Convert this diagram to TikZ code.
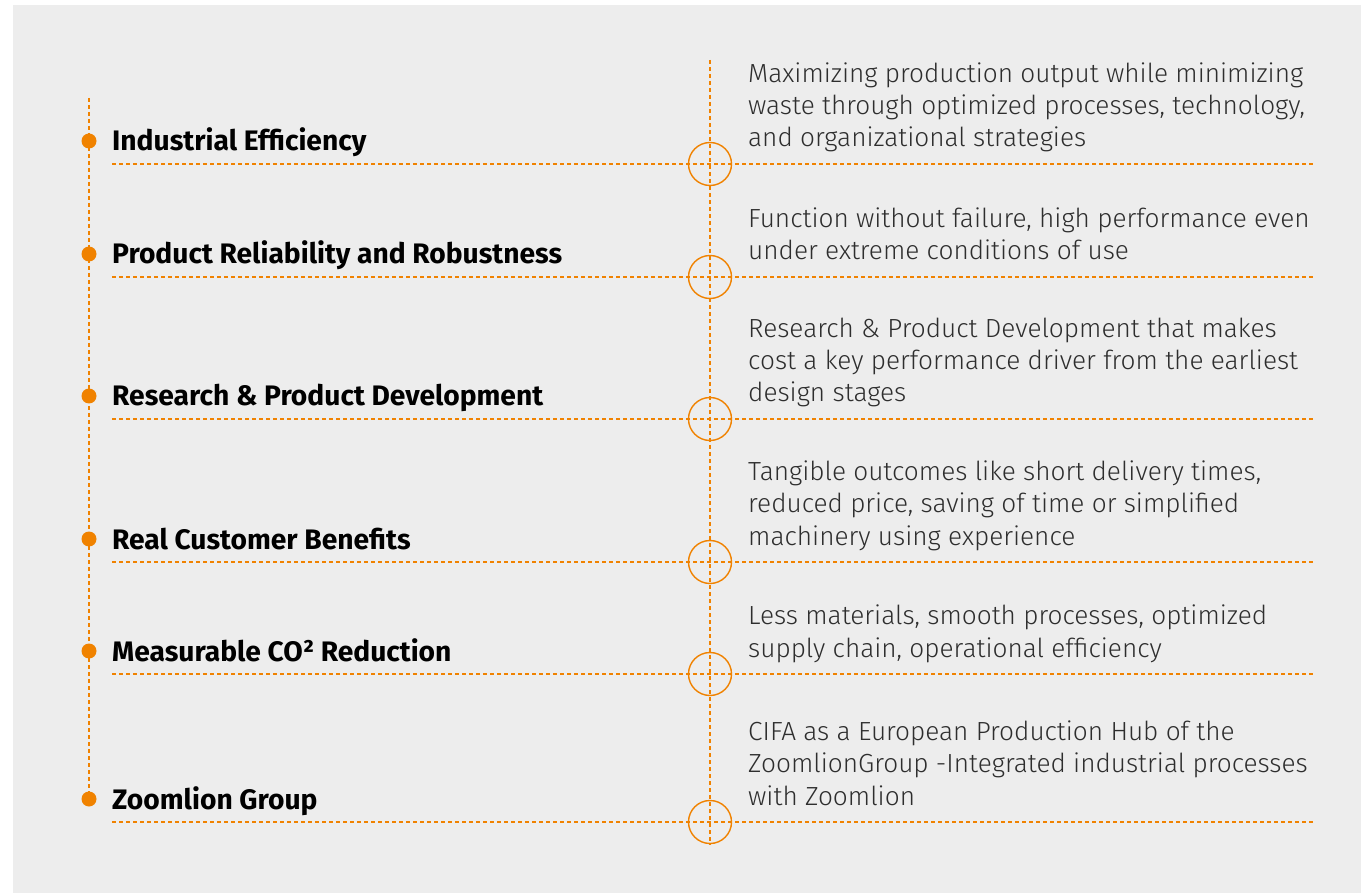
\documentclass[tikz,border=0pt]{standalone}
\usepackage{fontspec}
\setmainfont{Fira Sans}
\newfontfamily\thinfont{Fira Sans Light}
\definecolor{zorange}{HTML}{F08200}
\definecolor{zpanel}{HTML}{EDEDED}
\definecolor{ztext}{HTML}{2E2E2E}
\tikzset{
  guide/.style={zorange, line width=1.2pt, dash pattern=on 4pt off 3pt},
  headline/.style={anchor=base west, inner sep=0pt, font=\bfseries\fontsize{28.2}{32}\selectfont},
  blurb/.style={anchor=base west, inner sep=0pt, align=left, text=ztext, font=\thinfont\fontsize{26.2}{32.3}\selectfont},
  ring/.style={draw=zorange, line width=1.4pt, circle, minimum size=43pt, inner sep=0pt},
  bullet/.style={fill=zorange, circle, minimum size=15pt, inner sep=0pt}
}
\begin{document}
\begin{tikzpicture}[x=1pt,y=-1pt]
                \useasboundingbox (0,0) rectangle (1361,893);
                \fill[zpanel] (13,5) rectangle (1361,893);
                % left time line
                \coordinate (ltop) at (89,98);
                \coordinate (lbot) at (89,799);
                \draw[guide] (ltop)--(lbot);
                \node[bullet] (d1) at (89,141) {};
                \node[bullet] (d2) at (89,254) {};
                \node[bullet] (d3) at (89,396) {};
                \node[bullet] (d4) at (89,539) {};
                \node[bullet] (d5) at (89,651) {};
                \node[bullet] (d6) at (lbot) {};
                % titles
                \node[headline] (t1) at (112,151) {Industrial Efficiency};
                \node[headline] (t2) at (112,264) {Product Reliability and Robustness};
                \node[headline] (t3) at (112,406) {Research \& Product Development};
                \node[headline] (t4) at (112,549) {Real Customer Benefits};
                \node[headline] (t5) at (112,661) {Measurable CO² Reduction};
                \node[headline] (t6) at (112,809) {Zoomlion Group};
                % rule lines
                \coordinate (a1) at (112,164); \coordinate (b1) at (1313,164);
                \coordinate (a2) at (112,277); \coordinate (b2) at (1313,277);
                \coordinate (a3) at (112,419); \coordinate (b3) at (1313,419);
                \coordinate (a4) at (112,562); \coordinate (b4) at (1313,562);
                \coordinate (a5) at (112,674); \coordinate (b5) at (1313,674);
                \coordinate (a6) at (112,822); \coordinate (b6) at (1313,822);
                \draw[guide] (a1)--(b1);
                \draw[guide] (a2)--(b2);
                \draw[guide] (a3)--(b3);
                \draw[guide] (a4)--(b4);
                \draw[guide] (a5)--(b5);
                \draw[guide] (a6)--(b6);
                % rings on the middle line
                \coordinate (rtop) at (710,60);
                \node[ring] (r1) at (710,164) {};
                \node[ring] (r2) at (710,277) {};
                \node[ring] (r3) at (710,419) {};
                \node[ring] (r4) at (710,562) {};
                \node[ring] (r5) at (710,674) {};
                \node[ring] (r6) at (710,822) {};
                \draw[guide] (rtop)--(r6.south);
                % descriptions (base = last line)
                \node[blurb] (x1) at (748,147) {Maximizing production output while minimizing\\waste through optimized processes, technology,\\and organizational strategies};
                \node[blurb] (x2) at (748,260) {Function without failure, high performance even\\under extreme conditions of use};
                \node[blurb] (x3) at (748,402) {Research \& Product Development that makes\\cost a key performance driver from the earliest\\design stages};
                \node[blurb] (x4) at (748,545) {Tangible outcomes like short delivery times,\\reduced price, saving of time or simplified\\machinery using experience};
                \node[blurb] (x5) at (748,657) {Less materials, smooth processes, optimized\\supply chain, operational efficiency};
                \node[blurb] (x6) at (748,805) {CIFA as a European Production Hub of the\\ZoomlionGroup -Integrated industrial processes\\with Zoomlion};
\end{tikzpicture}
\end{document}
